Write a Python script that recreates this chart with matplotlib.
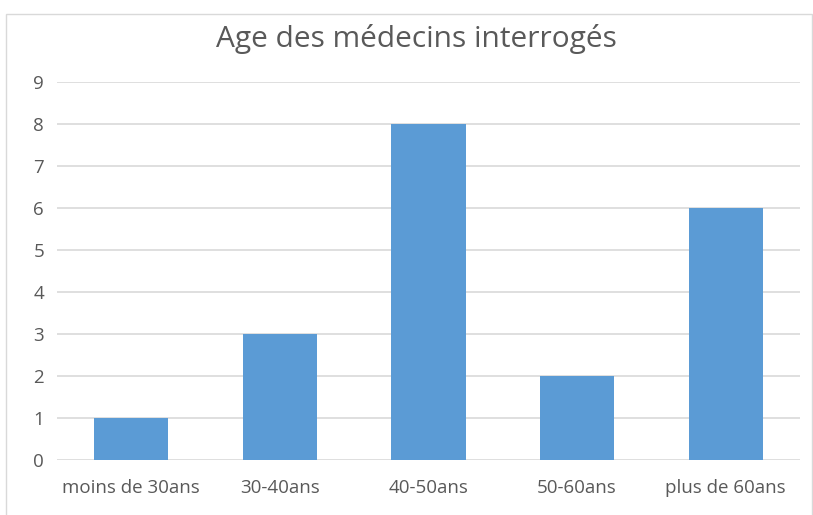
import matplotlib
matplotlib.use("Agg")
import matplotlib.pyplot as plt
from matplotlib.patches import Rectangle

categories = ["moins de 30ans", "30-40ans", "40-50ans", "50-60ans", "plus de 60ans"]
counts = [1, 3, 8, 2, 6]
yticks = list(range(0, 10))

plt.rcParams['font.family'] = ['Open Sans', 'DejaVu Sans']
txt = '#595959'
grid = '#d9d9d9'

fig = plt.figure(figsize=(8.13, 5.15), dpi=100)
# chart frame
fig.patches.append(Rectangle((6 / 813, -0.1), 806 / 813, 1.1 - 14 / 515,
                             transform=fig.transFigure, fill=False,
                             edgecolor=grid, linewidth=1))

ax = fig.add_axes([57 / 813, 1 - 460 / 515, 743 / 813, 378 / 515])
x = list(range(len(categories)))
ax.bar(x, counts, width=0.5, color='#5b9bd5', zorder=3)
ax.set_xlim(-0.5, len(categories) - 0.5)
ax.set_ylim(0, 9)
ax.set_yticks(yticks)
ax.set_xticks(x)
ax.set_xticklabels(categories)
ax.yaxis.grid(True, color=grid, linewidth=1.2, zorder=0)
for s in ax.spines.values():
    s.set_visible(False)
ax.tick_params(length=0, colors=txt, labelsize=13.5)
ax.tick_params(axis='x', pad=14)
ax.tick_params(axis='y', pad=17)
for lab in ax.get_yticklabels():
    lab.set_horizontalalignment('left')

fig.text(416 / 813, 1 - 39 / 515, "Age des médecins interrogés", ha='center',
         va='center', fontsize=21.5, color=txt)

fig.savefig("out.png", dpi=100)
